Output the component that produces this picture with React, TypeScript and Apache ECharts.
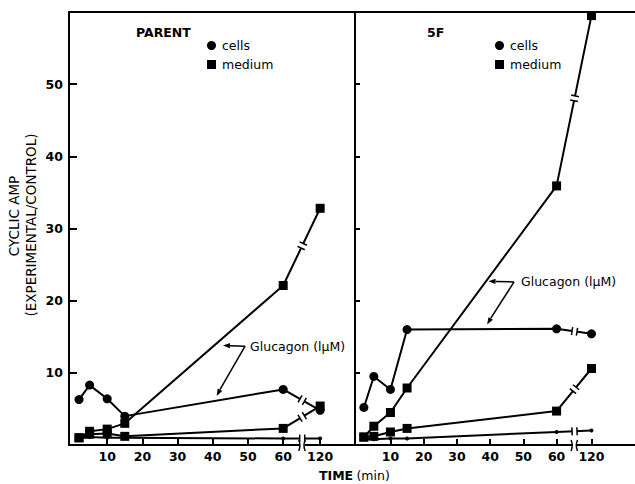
import React, { useEffect, useRef } from "react";
import * as echarts from "echarts";

// ---- data ----
const TIMES = [2, 5, 10, 15, 60, 120];
const X_TICKS = [10, 20, 30, 40, 50, 60, 120];
const Y_TICKS = [10, 20, 30, 40, 50];
const BREAK_AT = 70.5; // axis position at which 120 min is drawn
const BREAK_GAP = 65.4; // axis position of the axis break

const parentCellsGlucagon = [6.3, 8.3, 6.4, 4.0, 7.7, 4.8];
const parentMediumGlucagon = [1.0, 1.9, 2.2, 3.0, 22.1, 32.8];
const parentCellsControl = [0.9, 1.1, 1.0, 1.0, 0.9, 0.9];
const parentMediumControl = [1.0, 1.5, 1.6, 1.2, 2.3, 5.4];

const fivefCellsGlucagon = [5.2, 9.5, 7.7, 16.0, 16.1, 15.4];
const fivefMediumGlucagon = [1.1, 2.6, 4.5, 7.9, 35.9, 59.5];
const fivefCellsControl = [0.9, 0.8, 0.9, 0.9, 1.8, 2.0];
const fivefMediumControl = [1.1, 1.2, 1.8, 2.3, 4.7, 10.6];

// annotation anchors in data coordinates
const PARENT_TEXT = [50.6, 13.7];
const PARENT_JOINT = [48.6, 13.7];
const PARENT_TIPS = [[42.9, 13.8], [41.1, 6.8]];
const FIVEF_TEXT = [49.3, 22.7];
const FIVEF_JOINT = [46.6, 22.6];
const FIVEF_TIPS = [[39.5, 22.7], [39.1, 16.7]];

const FONT = "DejaVu Sans";

const xPos = (t: number) => (t === 120 ? BREAK_AT : t);
const pts = (vals: number[]) => TIMES.map((t, i) => [xPos(t), vals[i]]);
const breakRow = (vals: number[]) => [60, vals[4], BREAK_AT, vals[5]];

function lineBreakItem(params: any, api: any) {
  const p1 = api.coord([api.value(0), api.value(1)]);
  const p2 = api.coord([api.value(2), api.value(3)]);
  const bx = api.coord([BREAK_GAP, 0])[0];
  const dx = p2[0] - p1[0];
  const dy = p2[1] - p1[1];
  const t = (bx - p1[0]) / dx;
  const cx = p1[0] + t * dx;
  const cy = p1[1] + t * dy;
  const len = Math.hypot(dx, dy);
  const ux = dx / len, uy = dy / len;
  const nx = -uy, ny = ux;
  const g = 2.5, h = 4;
  const a = [cx - ux * g, cy - uy * g];
  const b = [cx + ux * g, cy + uy * g];
  return {
    type: "group",
    children: [
      { type: "line", shape: { x1: a[0], y1: a[1], x2: b[0], y2: b[1] }, style: { stroke: "#fff", lineWidth: 5 } },
      { type: "line", shape: { x1: a[0] + nx * h, y1: a[1] + ny * h, x2: a[0] - nx * h, y2: a[1] - ny * h }, style: { stroke: "#000", lineWidth: 1.5 } },
      { type: "line", shape: { x1: b[0] + nx * h, y1: b[1] + ny * h, x2: b[0] - nx * h, y2: b[1] - ny * h }, style: { stroke: "#000", lineWidth: 1.5 } },
    ],
  };
}

function axisBreakItem(params: any, api: any) {
  const p = api.coord([api.value(0), api.value(1)]);
  const x = p[0], y = p[1];
  return {
    type: "group",
    children: [
      { type: "rect", shape: { x: x - 2.5, y: y - 3, width: 5, height: 6 }, style: { fill: "#fff" } },
      { type: "bezierCurve", shape: { x1: x - 3.5, y1: y - 5, x2: x - 3.5, y2: y + 6, cpx1: x - 1, cpy1: y }, style: { stroke: "#000", lineWidth: 1.5, fill: "none" } },
      { type: "bezierCurve", shape: { x1: x + 3, y1: y - 5, x2: x + 3, y2: y + 6, cpx1: x + 0.5, cpy1: y }, style: { stroke: "#000", lineWidth: 1.5, fill: "none" } },
    ],
  };
}

function lineSeries(name: string, vals: number[], symbol: string, size: number, xi: number, yi: number) {
  return {
    type: "line",
    name,
    data: pts(vals),
    xAxisIndex: xi,
    yAxisIndex: yi,
    symbol,
    symbolSize: size,
    showSymbol: true,
    lineStyle: { color: "#000", width: 2 },
    itemStyle: { color: "#000" },
    z: 3,
  };
}

function xAxisBottom(grid: number, min: number, max: number) {
  const vals = X_TICKS.map(xPos);
  return {
    type: "value",
    gridIndex: grid,
    position: "bottom",
    min,
    max,
    axisLine: { show: true, onZero: false, lineStyle: { color: "#000", width: 2 } },
    axisTick: { show: true, inside: true, length: 6, customValues: vals, lineStyle: { color: "#000", width: 2 } },
    axisLabel: {
      show: true,
      customValues: vals,
      margin: 5,
      formatter: (v: number) => (Math.abs(v - BREAK_AT) < 0.01 ? "120" : String(v)),
      color: "#000",
      fontFamily: FONT,
      fontWeight: "bold",
      fontSize: 12.5,
    },
    splitLine: { show: false },
  };
}

function xAxisTop(grid: number, min: number, max: number) {
  return {
    type: "value",
    gridIndex: grid,
    position: "top",
    min,
    max,
    axisLine: { show: true, onZero: false, lineStyle: { color: "#000", width: 2 } },
    axisTick: { show: false },
    axisLabel: { show: false },
    splitLine: { show: false },
  };
}

function yAxisLeft(grid: number, labels: boolean) {
  return {
    type: "value",
    gridIndex: grid,
    position: "left",
    min: 0,
    max: 60,
    axisLine: { show: true, onZero: false, lineStyle: { color: "#000", width: 2 } },
    axisTick: { show: true, inside: true, length: labels ? 8 : 5, customValues: Y_TICKS, lineStyle: { color: "#000", width: 2 } },
    axisLabel: {
      show: labels,
      customValues: Y_TICKS,
      margin: 6,
      color: "#000",
      fontFamily: FONT,
      fontWeight: "bold",
      fontSize: 12.5,
    },
    splitLine: { show: false },
  };
}

function legendFor(left: number) {
  return {
    left,
    top: 39,
    orient: "vertical",
    itemWidth: 9,
    itemHeight: 9,
    itemGap: 6,
    padding: 0,
    selectedMode: false,
    data: [
      { name: "cells", icon: "circle" },
      { name: "medium", icon: "rect" },
    ],
    textStyle: { color: "#000", fontFamily: FONT, fontSize: 12.5, padding: [0, 0, 0, 1] },
  };
}

function annotation(chart: any, gridIndex: number, text: number[], joint: number[], tips: number[][]) {
  const P = (p: number[]) => chart.convertToPixel({ gridIndex }, p);
  const tp = P(text);
  const jp = P(joint);
  const els: any[] = [
    {
      type: "text",
      x: tp[0],
      y: tp[1],
      style: { text: "Glucagon (lμM)", fill: "#000", font: `12.5px "${FONT}"`, textVerticalAlign: "middle", verticalAlign: "middle" },
    },
  ];
  tips.forEach((tip) => {
    const q = P(tip);
    const dx = q[0] - jp[0], dy = q[1] - jp[1];
    const len = Math.hypot(dx, dy);
    const ux = dx / len, uy = dy / len;
    const nx = -uy, ny = ux;
    const L = 7, W = 2.6;
    const base = [q[0] - ux * L, q[1] - uy * L];
    els.push({ type: "line", shape: { x1: jp[0] + 2, y1: jp[1], x2: base[0], y2: base[1] }, style: { stroke: "#000", lineWidth: 1.5 } });
    els.push({
      type: "polygon",
      shape: { points: [q, [base[0] + nx * W, base[1] + ny * W], [base[0] - nx * W, base[1] - ny * W]] },
      style: { fill: "#000" },
    });
  });
  return els;
}

export default function App() {
  const ref = useRef<HTMLDivElement>(null);
  useEffect(() => {
    if (!ref.current) return;
    const chart = echarts.init(ref.current, null, { renderer: "svg" });
    const option: any = {
      animation: false,
      backgroundColor: "#fff",
      color: ["#000"],
      textStyle: { fontFamily: FONT },
      grid: [
        { left: 69, top: 12, width: 286, height: 433 },
        { left: 355, top: 12, width: 300, height: 433 },
      ],
      xAxis: [
        xAxisBottom(0, -0.85, -0.85 + 286 / 3.52),
        xAxisTop(0, -0.85, -0.85 + 286 / 3.52),
        xAxisBottom(1, -0.67, -0.67 + 300 / 3.56),
        xAxisTop(1, -0.67, -0.67 + 300 / 3.56),
      ],
      yAxis: [yAxisLeft(0, true), yAxisLeft(1, false)],
      title: [
        { text: "PARENT", left: 136, top: 26, padding: 0, textStyle: { color: "#000", fontFamily: FONT, fontWeight: "bold", fontSize: 12.5 } },
        { text: "5F", left: 427, top: 26, padding: 0, textStyle: { color: "#000", fontFamily: FONT, fontWeight: "bold", fontSize: 12.5 } },
      ],
      legend: [legendFor(207), legendFor(495)],
      series: [
        lineSeries("cells control", parentCellsControl, "circle", 4, 0, 0),
        lineSeries("medium control", parentMediumControl, "rect", 9, 0, 0),
        lineSeries("medium", parentMediumGlucagon, "rect", 9, 0, 0),
        lineSeries("cells", parentCellsGlucagon, "circle", 9, 0, 0),
        lineSeries("cells control", fivefCellsControl, "circle", 4, 2, 1),
        lineSeries("medium control", fivefMediumControl, "rect", 9, 2, 1),
        lineSeries("medium", fivefMediumGlucagon, "rect", 9, 2, 1),
        lineSeries("cells", fivefCellsGlucagon, "circle", 9, 2, 1),
        {
          type: "custom",
          xAxisIndex: 0,
          yAxisIndex: 0,
          z: 5,
          silent: true,
          renderItem: lineBreakItem,
          data: [breakRow(parentCellsControl), breakRow(parentMediumControl), breakRow(parentMediumGlucagon), breakRow(parentCellsGlucagon)],
        },
        {
          type: "custom",
          xAxisIndex: 2,
          yAxisIndex: 1,
          z: 5,
          silent: true,
          renderItem: lineBreakItem,
          data: [breakRow(fivefCellsControl), breakRow(fivefMediumControl), breakRow(fivefMediumGlucagon), breakRow(fivefCellsGlucagon)],
        },
        { type: "custom", xAxisIndex: 0, yAxisIndex: 0, z: 6, silent: true, clip: false, renderItem: axisBreakItem, data: [[BREAK_GAP, 0]] },
        { type: "custom", xAxisIndex: 2, yAxisIndex: 1, z: 6, silent: true, clip: false, renderItem: axisBreakItem, data: [[BREAK_GAP, 0]] },
      ],
    };
    chart.setOption(option);
    const graphic = [
      ...annotation(chart, 0, PARENT_TEXT, PARENT_JOINT, PARENT_TIPS),
      ...annotation(chart, 1, FIVEF_TEXT, FIVEF_JOINT, FIVEF_TIPS),
      {
        type: "text",
        x: 14,
        y: 216,
        rotation: Math.PI / 2,
        style: { text: "CYCLIC AMP", fill: "#000", font: `13.5px "${FONT}"`, align: "center", verticalAlign: "middle" },
      },
      {
        type: "text",
        x: 31,
        y: 225,
        rotation: Math.PI / 2,
        style: { text: "(EXPERIMENTAL/CONTROL)", fill: "#000", font: `13.5px "${FONT}"`, align: "center", verticalAlign: "middle" },
      },
      {
        type: "text",
        left: 319,
        top: 469,
        style: {
          text: "{b|TIME} {r|(min)}",
          rich: {
            b: { fontFamily: FONT, fontWeight: "bold", fontSize: 12.5, fill: "#000" },
            r: { fontFamily: FONT, fontSize: 12.5, fill: "#000" },
          },
        },
      },
    ];
    chart.setOption({ graphic });
    return () => chart.dispose();
  }, []);
  return <div ref={ref} style={{ width: 635, height: 484, position: "absolute", left: 0, top: 0 }} />;
}
